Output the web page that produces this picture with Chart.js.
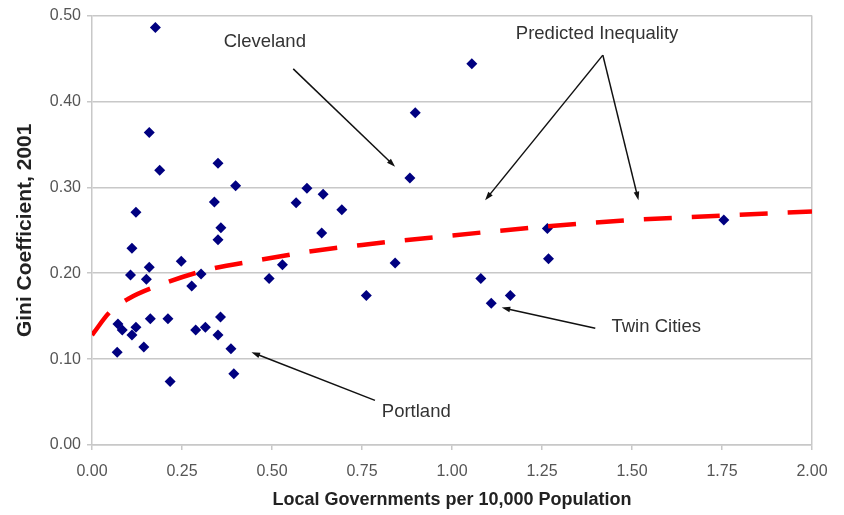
<!DOCTYPE html>
<html>
<head>
<meta charset="utf-8">
<script src="https://cdn.jsdelivr.net/npm/chart.js@4.4.1/dist/chart.umd.min.js"></script>
<style>
  html, body { margin: 0; padding: 0; background: #fff; }
  #wrap { width: 844px; height: 515px; }
</style>
</head>
<body>
<div id="wrap"><canvas id="chart"></canvas></div>
<script>
// Gini coefficient vs. local governments per 10,000 population (metro areas)
const govPer10k = [
  0.176, 0.159, 0.188, 0.122, 0.350, 0.340, 0.399, 0.567, 0.597, 0.642,
  0.694, 0.111, 0.107, 0.159, 0.151, 0.248, 0.277, 0.303, 0.358, 0.350,
  0.492, 0.529, 0.638, 0.072, 0.084, 0.122, 0.111, 0.070, 0.144, 0.162,
  0.211, 0.217, 0.288, 0.315, 0.350, 0.357, 0.386, 0.394, 1.055, 0.898,
  0.883, 1.265, 0.842, 0.762, 1.080, 1.109, 1.162, 1.268, 1.755
];
const gini2001 = [
  0.486, 0.364, 0.320, 0.271, 0.328, 0.283, 0.302, 0.282, 0.299, 0.292,
  0.274, 0.229, 0.198, 0.207, 0.193, 0.214, 0.185, 0.199, 0.253, 0.239,
  0.194, 0.210, 0.247, 0.141, 0.134, 0.137, 0.128, 0.108, 0.114, 0.147,
  0.147, 0.074, 0.134, 0.137, 0.128, 0.149, 0.112, 0.083, 0.444, 0.387,
  0.311, 0.252, 0.212, 0.174, 0.194, 0.165, 0.174, 0.217, 0.262
];

// predicted inequality curve
const trendX = [0.00, 0.05, 0.10, 0.18, 0.32, 0.46, 0.60, 0.75, 1.00, 1.25, 1.50, 1.75, 2.00];
const trendY = [0.128, 0.155, 0.170, 0.185, 0.204, 0.215, 0.225, 0.233, 0.244, 0.254, 0.262, 0.267, 0.272];

const xTicks = [0, 0.25, 0.5, 0.75, 1, 1.25, 1.5, 1.75, 2];

// callouts: label text and arrows (from -> to), in data units
const labels = [
  { text: 'Cleveland', x: 0.480, y: 0.469, align: 'center' },
  { text: 'Predicted Inequality', x: 1.403, y: 0.479, align: 'center' },
  { text: 'Twin Cities', x: 1.443, y: 0.1376, align: 'left' },
  { text: 'Portland', x: 0.805, y: 0.0387, align: 'left' }
];
const arrows = [
  [0.559, 0.438, 0.842, 0.324],
  [1.419, 0.454, 1.092, 0.285],
  [1.419, 0.454, 1.518, 0.285],
  [1.398, 0.136, 1.138, 0.160],
  [0.786, 0.052, 0.443, 0.108]
];

const points = govPer10k.map((x, i) => ({ x, y: gini2001[i] }));
const trend = trendX.map((x, i) => ({ x, y: trendY[i] }));

const gridGray = '#c8c8c8';
const fontFamily = '"Liberation Sans", Arial, sans-serif';

const callouts = {
  id: 'callouts',
  afterDatasetsDraw(chart) {
    const { ctx, scales: { x, y } } = chart;
    ctx.save();
    ctx.strokeStyle = '#111';
    ctx.fillStyle = '#111';
    ctx.lineWidth = 1.5;
    arrows.forEach(([x1, y1, x2, y2]) => {
      const ax = x.getPixelForValue(x1), ay = y.getPixelForValue(y1);
      const bx = x.getPixelForValue(x2), by = y.getPixelForValue(y2);
      const ang = Math.atan2(by - ay, bx - ax);
      ctx.beginPath();
      ctx.moveTo(ax, ay);
      ctx.lineTo(bx - 5 * Math.cos(ang), by - 5 * Math.sin(ang));
      ctx.stroke();
      ctx.beginPath();
      ctx.moveTo(bx, by);
      ctx.lineTo(bx - 9 * Math.cos(ang - 0.32), by - 9 * Math.sin(ang - 0.32));
      ctx.lineTo(bx - 9 * Math.cos(ang + 0.32), by - 9 * Math.sin(ang + 0.32));
      ctx.closePath();
      ctx.fill();
    });
    ctx.fillStyle = '#333';
    ctx.font = '18.5px ' + fontFamily;
    ctx.textBaseline = 'middle';
    labels.forEach(l => {
      ctx.textAlign = l.align;
      ctx.fillText(l.text, x.getPixelForValue(l.x), y.getPixelForValue(l.y));
    });
    ctx.restore();
  }
};

new Chart(document.getElementById('chart'), {
  type: 'scatter',
  data: {
    datasets: [
      {
        label: 'Gini',
        data: points,
        pointStyle: 'rectRot',
        pointRadius: 5.5,
        pointBackgroundColor: '#000080',
        pointBorderColor: '#000080',
        pointBorderWidth: 0,
        order: 1
      },
      {
        type: 'line',
        label: 'Predicted Inequality',
        data: trend,
        borderColor: '#ff0000',
        borderWidth: 4.5,
        borderDash: [28, 20],
        borderCapStyle: 'butt',
        pointRadius: 0,
        cubicInterpolationMode: 'monotone',
        fill: false,
        order: 0
      }
    ]
  },
  options: {
    responsive: true,
    maintainAspectRatio: false,
    animation: false,
    layout: { padding: { left: 0, top: 15, right: 32, bottom: 0 } },
    plugins: {
      legend: { display: false },
      tooltip: { enabled: false }
    },
    scales: {
      x: {
        type: 'linear',
        min: 0,
        max: 2,
        afterBuildTicks: s => { s.ticks = xTicks.map(v => ({ value: v })); },
        afterFit: s => { s.height = 70; },
        ticks: {
          padding: 12,
          color: '#555',
          font: { family: fontFamily, size: 16 },
          callback: v => v.toFixed(2),
          maxRotation: 0
        },
        grid: {
          color: c => (c.tick && c.tick.value === 2 ? gridGray : 'transparent'),
          tickColor: gridGray,
          tickLength: 5,
          lineWidth: 1.5
        },
        border: { color: gridGray, width: 1.5 },
        title: {
          display: true,
          text: 'Local Governments per 10,000 Population',
          color: '#222',
          font: { family: fontFamily, size: 18, weight: 'bold' },
          padding: { top: 0, bottom: 4 }
        }
      },
      y: {
        min: 0,
        max: 0.5,
        afterFit: s => { s.width = 92; },
        ticks: {
          stepSize: 0.1,
          padding: 6,
          color: '#555',
          font: { family: fontFamily, size: 16 },
          callback: v => v.toFixed(2)
        },
        grid: { color: gridGray, tickLength: 5, lineWidth: 1.5 },
        border: { color: gridGray, width: 1.5 },
        title: {
          display: true,
          text: 'Gini Coefficient, 2001',
          color: '#222',
          font: { family: fontFamily, size: 21, weight: 'bold' },
          padding: { top: 13, bottom: 0 }
        }
      }
    }
  },
  plugins: [callouts]
});
</script>
</body>
</html>
